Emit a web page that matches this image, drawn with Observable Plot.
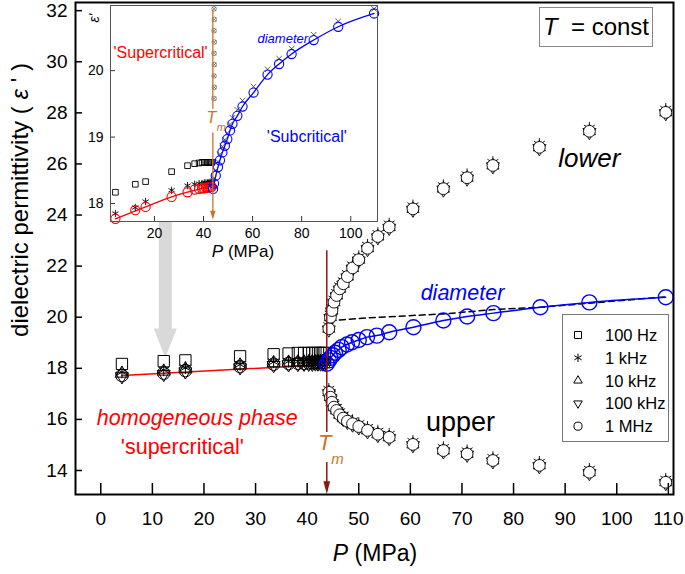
<!DOCTYPE html>
<html><head><meta charset="utf-8">
<script src="https://cdn.jsdelivr.net/npm/d3@7"></script>
<script src="https://cdn.jsdelivr.net/npm/@observablehq/plot@0.6"></script>
<style>
body{margin:0;background:#fff;}
#wrap{position:relative;width:685px;height:574px;font-family:"Liberation Sans",Arial,sans-serif;overflow:hidden;background:#fff;}
#wrap > svg, #wrap > div{position:absolute;}
</style></head><body><div id="wrap"></div>
<script>
// ---------- data ----------
const xTicks = [0,10,20,30,40,50,60,70,80,90,100,110];
const yTicks = [14,16,18,20,22,24,26,28,30,32];
const insetXTicks = [20,40,60,80,100];
const insetYTicks = [18,19,20];
const freqLabels = ["100 Hz","1 kHz","10 kHz","100 kHz","1 MHz"];
const Tm = 43.8;

// homogeneous ('supercritical') phase, main panel
const superP      = [4.1, 12.2, 16.4, 27.0, 33.5, 36.4, 38.2, 39.4, 40.3, 41.0, 41.6, 42.1, 42.6, 43.0, 43.4];
const super100Hz  = [18.17, 18.28, 18.31, 18.47, 18.55, 18.58, 18.6, 18.6, 18.6, 18.6, 18.6, 18.6, 18.6, 18.6, 18.6];
const super1kHz   = [17.85, 17.93, 18.02, 18.15, 18.25, 18.27, 18.27, 18.28, 18.28, 18.28, 18.28, 18.29, 18.29, 18.29, 18.29];
const super10kHz  = [17.8, 17.88, 17.97, 18.12, 18.21, 18.23, 18.24, 18.24, 18.25, 18.25, 18.25, 18.26, 18.26, 18.26, 18.26];
const super100kHz = [17.68, 17.77, 17.87, 18.03, 18.12, 18.15, 18.16, 18.17, 18.17, 18.17, 18.18, 18.18, 18.18, 18.18, 18.18];
const super1MHz   = [17.72, 17.81, 17.91, 18.07, 18.16, 18.19, 18.2, 18.2, 18.21, 18.21, 18.21, 18.22, 18.22, 18.22, 18.22];
const redFitP = [4.1, 43.8];
const redFitE = [17.72, 18.15];

// two-phase region, main panel
const twoP        = [44.2, 44.5, 44.8, 45.2, 45.7, 46.3, 47.0, 47.8, 48.8, 50.0, 51.7, 53.7, 55.9, 60.5, 66.4, 71.0, 76.0, 85.0, 94.7, 109.5];
const lowerBranch = [19.55, 20.0, 20.26, 20.59, 20.85, 21.11, 21.31, 21.59, 21.93, 22.25, 22.7, 23.16, 23.53, 24.24, 25.03, 25.46, 25.94, 26.65, 27.28, 28.02];
const upperBranch = [17.06, 16.87, 16.67, 16.48, 16.35, 16.18, 16.05, 15.93, 15.83, 15.72, 15.57, 15.42, 15.3, 15.02, 14.78, 14.65, 14.39, 14.2, 13.93, 13.54];
const diamP    = [43.8, 44.2, 44.5, 45.0, 45.4, 46.1, 46.7, 47.7, 48.7, 50.0, 51.6, 53.5, 55.9, 60.6, 66.4, 71.0, 76.1, 85.2, 94.7, 109.5];
const diameter = [18.18, 18.31, 18.41, 18.51, 18.61, 18.72, 18.83, 18.93, 19.02, 19.11, 19.22, 19.28, 19.41, 19.61, 19.87, 20.03, 20.16, 20.39, 20.58, 20.78];
const dashP = [44.3, 47.0, 52.2, 66.4, 76.1, 85.2, 94.7, 109.5];
const dashE = [19.87, 19.9, 19.98, 20.13, 20.3, 20.39, 20.55, 20.8];

// inset
const inset100Hz = [18.17, 18.29, 18.33, 18.48, 18.57, 18.6, 18.61, 18.62, 18.62, 18.62, 18.62, 18.62, 18.62, 18.62, 18.62];
const inset1kHz  = [17.85, 17.94, 18.03, 18.2, 18.27, 18.29, 18.3, 18.3, 18.31, 18.31, 18.31, 18.31, 18.32, 18.32, 18.32];
const inset1MHz  = [17.77, 17.9, 17.95, 18.1, 18.17, 18.21, 18.22, 18.23, 18.23, 18.24, 18.24, 18.24, 18.25, 18.25, 18.25];
const insetRedP = [4.1, 16.4, 27.0, 36.4, 43.8];
const insetRedE = [17.77, 17.95, 18.1, 18.2, 18.27];
const insetSubP      = [43.9, 44.3, 45.0, 45.9, 46.7, 47.7, 48.7, 49.7, 50.8, 51.8, 53.8, 55.9, 60.4, 66.1, 70.8, 75.9, 84.9, 94.9, 109.5];
const insetDiameter  = [18.22, 18.3, 18.42, 18.55, 18.65, 18.77, 18.87, 18.97, 19.1, 19.2, 19.32, 19.46, 19.67, 19.94, 20.1, 20.25, 20.46, 20.66, 20.86];
const inset1kHzSub   = [18.3, 18.38, 18.5, 18.63, 18.74, 18.86, 18.96, 19.06, 19.19, 19.29, 19.41, 19.55, 19.76, 20.02, 20.18, 20.33, 20.54, 20.74, 20.93];
// near-critical column of points seen in the inset at Tm
const insetColP = [44.3, 44.4, 44.3, 44.4, 44.3, 44.4, 44.3, 44.4, 44.3];
const insetColE = [19.58, 19.75, 19.92, 20.09, 20.26, 20.43, 20.6, 20.77, 20.93];

// ---------- helpers ----------
const FONT = '"Liberation Sans", Arial, sans-serif';
const RED = "#ff0000", BLUE = "#0000ff", TMLINE = "#8c1515", TMTEXT = "#c8742a";
const pts = (xs, ys) => xs.map((x, i) => ({x, y: ys[i]}));
const triDown = {draw(ctx, size){const s=Math.sqrt(size)*0.6824,t=s/2,u=s*Math.sqrt(3)/2;ctx.moveTo(0,s);ctx.lineTo(-u,-t);ctx.lineTo(u,-t);ctx.closePath();}};
const mainSyms = [
  {symbol:"square2", r:7.2},{symbol:"asterisk", r:5.8},{symbol:"triangle2", r:6.2},{symbol:triDown, r:6.2},{symbol:"circle", r:6.3}
];
const twoSyms = [
  {symbol:"square2", r:5.2},{symbol:"asterisk", r:6.0, dy:-3},{symbol:"triangle2", r:5.8},{symbol:triDown, r:6.2, dy:1},{symbol:"circle", r:5.9, fill:"white"}
];
const dots = (xs, ys, spec, extra={}) => Plot.dot(pts(xs, ys), {x:"x", y:"y", symbol:spec.symbol, r:spec.r, dy: spec.dy || 0, stroke:"black", strokeWidth:1, fill: spec.fill || "none", ...extra});
const poly = (vs, fill) => Plot.line(vs, {x: d=>d[0], y: d=>d[1], fill, stroke: "none"});
const note = (txt, P, E, opts) => Plot.text([txt], {x: () => P, y: () => E, text: d => d, ...opts});

// ---------- main ----------
const superSeries = [super100Hz, super1kHz, super10kHz, super100kHz, super1MHz];
const arrowX = 12.5;
const arrowShape = [[arrowX-1.26,24.5],[arrowX+1.26,24.5],[arrowX+1.26,19.56],[arrowX+2.25,19.56],[arrowX,18.42],[arrowX-2.25,19.56],[arrowX-1.26,19.56]];

const main = Plot.plot({
  width: 685, height: 574,
  marginLeft: 75, marginRight: 12, marginTop: 2, marginBottom: 80,
  x: {domain: [-4.9, 111]},
  y: {domain: [13.06, 32.32]},
  style: {fontFamily: FONT, background: "white", overflow: "visible"},
  marks: [
    poly(arrowShape, "#d9d9d9"),
    Plot.line(pts(redFitP, redFitE), {x:"x", y:"y", stroke: RED, strokeWidth: 1.5}),
    Plot.line(pts(dashP, dashE), {x:"x", y:"y", stroke: "black", strokeWidth: 1.5, strokeDasharray: "6,4"}),
    Plot.line(pts(diamP, diameter), {x:"x", y:"y", stroke: BLUE, strokeWidth: 1.5, curve: "monotone-x"}),
    ...superSeries.map((s, k) => dots(superP, s, mainSyms[k])),
    ...twoSyms.map(spec => dots(twoP, lowerBranch, spec, {strokeWidth: 0.9})),
    ...twoSyms.map(spec => dots(twoP, upperBranch, spec, {strokeWidth: 0.9})),
    dots(diamP, diameter, {symbol:"circle", r:7.5}, {stroke: BLUE, strokeWidth: 1.4}),
    Plot.ruleX([Tm], {y1: 22.6, y2: 15.49, stroke: TMLINE, strokeWidth: 1.5}),
    Plot.ruleX([Tm], {y1: 14.31, y2: 13.5, stroke: TMLINE, strokeWidth: 1.5}),
    poly([[Tm-0.65,13.58],[Tm+0.65,13.58],[Tm,13.07]], TMLINE),
    note("T", 43.4, 15.06, {fill: TMTEXT, fontSize: 22, fontStyle: "italic"}),
    note("m", 45.9, 14.45, {fill: TMTEXT, fontSize: 15, fontStyle: "italic"}),
    note("lower", 94.7, 26.21, {fill: "black", fontSize: 26, fontStyle: "italic"}),
    note("upper", 69.7, 15.88, {fill: "black", fontSize: 27}),
    note("diameter", 70.1, 20.93, {fill: BLUE, fontSize: 21.5, fontStyle: "italic"}),
    note("homogeneous phase", 18.7, 16.04, {fill: RED, fontSize: 21.5, fontStyle: "italic"}),
    note("'supercritical'", 15.8, 14.9, {fill: RED, fontSize: 21.5}),
    Plot.ruleX(xTicks, {stroke: "black", strokeWidth: 1.5, insetTop: 481}),
    Plot.ruleY(yTicks, {stroke: "black", strokeWidth: 1.5, insetRight: 591}),
    Plot.frame({stroke: "black", strokeWidth: 2}),
    Plot.axisX({ticks: xTicks, tickSize: 0, tickPadding: 17, fontSize: 19, label: null, tickFormat: d => String(d)}),
    Plot.axisY({ticks: yTicks, tickSize: 0, tickPadding: 8, fontSize: 19, label: null, tickFormat: d => String(d)})
  ]
});
main.style.left = "0px"; main.style.top = "0px";
{
  const svg = d3.select(main);
  const yl = svg.append("text").attr("transform", "translate(19,200) rotate(-90)")
    .attr("text-anchor", "middle").attr("dominant-baseline", "central")
    .style("font-size", "24px").style("font-family", FONT).attr("fill", "black");
  yl.append("tspan").text("dielectric permittivity ( ");
  yl.append("tspan").style("font-style", "italic").text("ε");
  yl.append("tspan").text(" ' )");
  const xl = svg.append("text").attr("x", 375).attr("y", 553)
    .attr("text-anchor", "middle").attr("dominant-baseline", "central")
    .style("font-size", "23px").style("font-family", FONT).attr("fill", "black");
  xl.append("tspan").style("font-style", "italic").text("P");
  xl.append("tspan").text(" (MPa)");
}
document.getElementById("wrap").appendChild(main);

// ---------- inset ----------
const inset = Plot.plot({
  width: 305, height: 262,
  marginLeft: 30, marginRight: 8, marginTop: 5, marginBottom: 41,
  x: {domain: [2.1, 110.9]},
  y: {domain: [17.73, 20.98]},
  style: {fontFamily: FONT, background: "transparent", overflow: "visible"},
  marks: [
    Plot.frame({fill: "white", stroke: "none"}),
    Plot.line(pts(insetRedP, insetRedE), {x:"x", y:"y", stroke: RED, strokeWidth: 1.3, curve: "monotone-x"}),
    Plot.line(pts(insetSubP, insetDiameter), {x:"x", y:"y", stroke: BLUE, strokeWidth: 1.3, curve: "monotone-x"}),
    dots(superP, inset100Hz, {symbol:"square2", r:3.6}, {strokeWidth: 0.9}),
    dots(superP, inset1kHz, {symbol:"asterisk", r:3.4}, {strokeWidth: 0.9}),
    dots(insetSubP, inset1kHzSub, {symbol:"times", r:2.6}, {strokeWidth: 0.8, stroke: "#333"}),
    dots(insetColP, insetColE, {symbol:"circle", r:2.3}, {strokeWidth: 0.6, stroke: "#444", clip: true}),
    dots(insetColP, insetColE, {symbol:"times", r:2.0}, {strokeWidth: 0.6, stroke: "#444", clip: true}),
    dots(superP, inset1MHz, {symbol:"circle", r:4.6}, {stroke: RED, strokeWidth: 1.1}),
    dots(insetSubP, insetDiameter, {symbol:"circle", r:4.6}, {stroke: BLUE, strokeWidth: 1.1}),
    Plot.ruleX([Tm], {y1: 20.9, y2: 19.42, stroke: TMTEXT, strokeWidth: 1.3}),
    Plot.ruleX([Tm], {y1: 19.06, y2: 17.86, stroke: TMTEXT, strokeWidth: 1.3}),
    poly([[Tm-1.1,17.89],[Tm+1.1,17.89],[Tm,17.76]], TMTEXT),
    note("T", 43.2, 19.29, {fill: TMTEXT, fontSize: 16, fontStyle: "italic"}),
    note("m", 47.3, 19.15, {fill: TMTEXT, fontSize: 11, fontStyle: "italic"}),
    note("'Supercritical'", 22.5, 20.27, {fill: RED, fontSize: 16}),
    note("'Subcritical'", 82.1, 19.01, {fill: BLUE, fontSize: 16}),
    note("diameter", 72.3, 20.48, {fill: BLUE, fontSize: 13, fontStyle: "italic"}),
    Plot.ruleX(insetXTicks, {stroke: "#333", strokeWidth: 1, insetTop: 211}),
    Plot.ruleY(insetYTicks, {stroke: "#333", strokeWidth: 1, insetRight: 262}),
    Plot.frame({stroke: "#555", strokeWidth: 1}),
    Plot.axisX({ticks: insetXTicks, tickSize: 0, tickPadding: 7, fontSize: 14, label: null, tickFormat: d => String(d)}),
    Plot.axisY({ticks: insetYTicks, tickSize: 0, tickPadding: 7, fontSize: 14, label: null, tickFormat: d => String(d)})
  ]
});
inset.style.left = "80px"; inset.style.top = "0px";
{
  const svg = d3.select(inset);
  svg.append("text").attr("transform", "translate(14,18) rotate(-90)")
    .attr("text-anchor", "middle").attr("dominant-baseline", "central")
    .style("font-size", "14px").style("font-family", FONT).style("font-style", "italic").text("ε'");
  const xl = svg.append("text").attr("x", 163).attr("y", 251)
    .attr("text-anchor", "middle").attr("dominant-baseline", "central")
    .style("font-size", "17px").style("font-family", FONT);
  xl.append("tspan").style("font-style", "italic").text("P");
  xl.append("tspan").text(" (MPa)");
}
document.getElementById("wrap").appendChild(inset);

// ---------- legend ----------
{
  const W = 107, H = 128;
  const div = document.createElement("div");
  div.style.cssText = `left:562px;top:314px;width:${W}px;height:${H}px;`;
  const svg = d3.create("svg").attr("width", W).attr("height", H).style("display", "block");
  svg.append("rect").attr("x", 0.5).attr("y", 0.5).attr("width", W-1).attr("height", H-1)
    .attr("fill", "white").attr("stroke", "#777");
  const types = [d3.symbolSquare2, d3.symbolAsterisk, d3.symbolTriangle2, triDown, d3.symbolCircle];
  const sizes = [62, 50, 52, 52, 52];
  freqLabels.forEach((lab, i) => {
    const cy = 21 + i * 22.8;
    svg.append("path").attr("d", d3.symbol(types[i], sizes[i])())
      .attr("transform", `translate(16,${cy})`).attr("fill", "none").attr("stroke", "black").attr("stroke-width", 1);
    svg.append("text").attr("x", 43).attr("y", cy).attr("dominant-baseline", "central")
      .style("font-size", "16.5px").style("font-family", FONT).text(lab);
  });
  div.appendChild(svg.node());
  document.getElementById("wrap").appendChild(div);
}
// ---------- T = const box ----------
{
  const div = document.createElement("div");
  div.style.cssText = "left:539px;top:7px;width:112px;height:38px;border:1px solid #888;background:#fff;display:flex;align-items:center;justify-content:center;font-size:24px;white-space:pre;";
  div.innerHTML = "<i>T</i>  = const";
  document.getElementById("wrap").appendChild(div);
}
</script></body></html>
